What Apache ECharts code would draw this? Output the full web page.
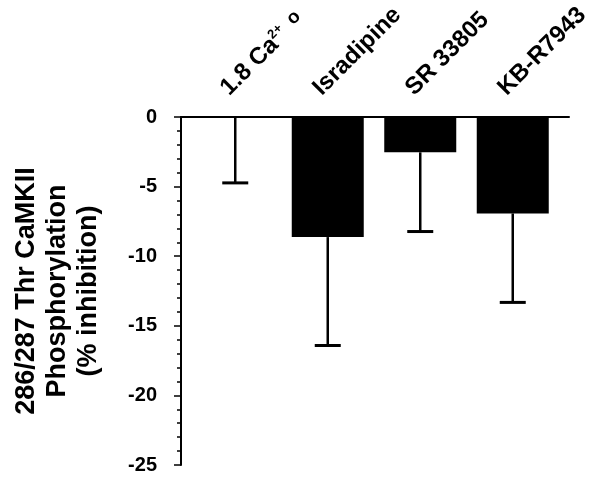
<!DOCTYPE html>
<html>
<head>
<meta charset="utf-8">
<script src="https://cdn.jsdelivr.net/npm/echarts@6/dist/echarts.min.js"></script>
<style>
  html, body { margin: 0; padding: 0; background: #fff; }
  #chart { width: 600px; height: 487px; }
</style>
</head>
<body>
<div id="chart"></div>
<script>
  // data
  var categories = ['1.8 Ca{sup|2+} {o|o}', 'Isradipine', 'SR 33805', 'KB-R7943'];
  var meanValues = [0, -8.6, -2.5, -6.9];      // % inhibition (bar ends)
  var errorLows = [-4.7, -16.4, -8.2, -13.3];  // lower ends of the error bars
  var yTicks = [0, -5, -10, -15, -20, -25];

  var font = '"Liberation Sans", Arial, Helvetica, sans-serif';
  var chart = echarts.init(document.getElementById('chart'));

  var errData = categories.map(function (c, i) {
    return [i, meanValues[i], errorLows[i]];
  });

  var option = {
    backgroundColor: '#fff',
    animation: false,
    grid: [
      { left: 189, right: 41, top: 117, bottom: 22 },   // bars
      { left: 181, right: 31, top: 117, bottom: 22 }    // axis frame
    ],
    xAxis: [
      {
        type: 'category',
        gridIndex: 0,
        position: 'top',
        data: categories,
        axisLine: { show: false },
        axisTick: { show: false },
        axisLabel: {
          interval: 0,
          rotate: 45,
          margin: 7,
          verticalAlign: 'bottom',
          padding: [0, 0, 8, 6],
          color: '#000',
          fontFamily: font,
          fontWeight: 'bold',
          fontSize: 24,
          lineHeight: 26,
          rich: {
            sup: { fontSize: 13, lineHeight: 16, fontWeight: 'bold', fontFamily: font, color: '#000', verticalAlign: 'top' },
            o: { fontSize: 19, lineHeight: 22, fontFamily: font, color: '#000', verticalAlign: 'top', padding: [0, 0, 0, 3] }
          }
        }
      },
      {
        type: 'value',
        gridIndex: 1,
        position: 'top',
        min: 0,
        max: 1,
        axisLine: { show: true, lineStyle: { color: '#000', width: 2 } },
        axisTick: { show: false },
        axisLabel: { show: false },
        splitLine: { show: false }
      }
    ],
    yAxis: [
      {
        type: 'value',
        gridIndex: 0,
        min: -25,
        max: 0,
        show: false
      },
      {
        type: 'value',
        gridIndex: 1,
        min: -25,
        max: 0,
        interval: 5,
        name: '286/287 Thr CaMKII\nPhosphorylation\n(% inhibition)',
        nameLocation: 'middle',
        nameRotate: 90,
        nameGap: 77,
        nameTextStyle: {
          color: '#000',
          fontFamily: font,
          fontWeight: 'bold',
          fontSize: 27,
          lineHeight: 31
        },
        axisLine: { show: true, lineStyle: { color: '#000', width: 2 } },
        axisTick: { show: true, length: 7, lineStyle: { color: '#000', width: 1.5 } },
        minorTick: { show: true, splitNumber: 5, length: 4, lineStyle: { color: '#000', width: 1.5 } },
        splitLine: { show: false },
        axisLabel: {
          margin: 24,
          color: '#000',
          fontFamily: font,
          fontWeight: 'bold',
          fontSize: 20,
          formatter: function (v) { return yTicks.indexOf(v) >= 0 ? String(v) : ''; }
        }
      }
    ],
    series: [
      {
        type: 'bar',
        xAxisIndex: 0,
        yAxisIndex: 0,
        data: meanValues,
        barWidth: 72,
        itemStyle: { color: '#000' }
      },
      {
        type: 'custom',
        xAxisIndex: 0,
        yAxisIndex: 0,
        data: errData,
        z: 5,
        renderItem: function (params, api) {
          var top = api.coord([api.value(0), api.value(1)]);
          var low = api.coord([api.value(0), api.value(2)]);
          var half = 13;
          return {
            type: 'group',
            children: [
              { type: 'line', shape: { x1: top[0], y1: top[1], x2: low[0], y2: low[1] },
                style: { stroke: '#000', lineWidth: 2.5 } },
              { type: 'line', shape: { x1: low[0] - half, y1: low[1], x2: low[0] + half, y2: low[1] },
                style: { stroke: '#000', lineWidth: 3 } }
            ]
          };
        }
      }
    ]
  };

  chart.setOption(option);
</script>
</body>
</html>
